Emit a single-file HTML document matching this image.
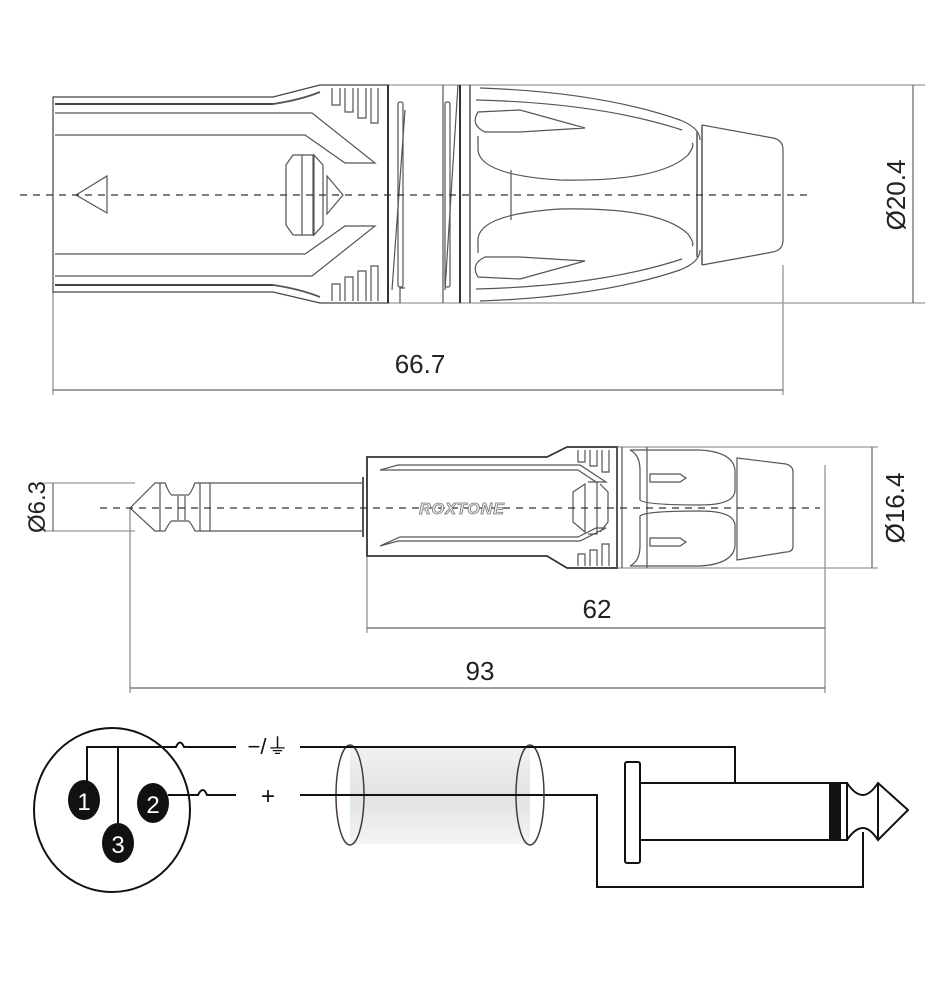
<!DOCTYPE html>
<html><head><meta charset="utf-8"><style>
html,body{margin:0;padding:0;background:#fff;width:939px;height:1000px;overflow:hidden}
svg{display:block}
text{font-family:"Liberation Sans",sans-serif}
</style></head><body>
<svg width="939" height="1000" viewBox="0 0 939 1000" xmlns="http://www.w3.org/2000/svg">
<g fill="none" stroke="#555" stroke-width="1.2">
<!-- TOP CONNECTOR -->
<line x1="53" y1="292" x2="53" y2="395" stroke="#888"/>
<line x1="783" y1="265" x2="783" y2="395" stroke="#888"/>
<line x1="388" y1="85" x2="925" y2="85" stroke="#999"/>
<line x1="388" y1="303" x2="925" y2="303" stroke="#999"/>
<line x1="913" y1="85" x2="913" y2="303" stroke="#666"/>
<line x1="53" y1="390" x2="783" y2="390" stroke="#666"/>
<path d="M53 97 H273 L320 85 H388 V303 H320 L273 292 H53 Z" stroke="#444"/>
<line x1="55" y1="104" x2="273" y2="104" stroke-width="2" stroke="#444"/>
<line x1="55" y1="285" x2="273" y2="285" stroke-width="2" stroke="#444"/>
<path d="M273 104 Q300 100 320 92" stroke-width="1.8"/>
<path d="M273 285 Q300 289 320 297" stroke-width="1.8"/>
<path d="M55 113 H312 L375 163 H345 L305 135 H55"/>
<path d="M55 276 H312 L375 226 H345 L305 254 H55"/>
<path d="M332 88 V105 H340 V88 M345 88 V112 H353 V88 M358 88 V118 H366 V88 M371 88 V123 H378 V88"/>
<path d="M332 301 V284 H340 V301 M345 301 V277 H353 V301 M358 301 V271 H366 V301 M371 301 V266 H378 V301"/>
<path d="M76 195 L107 176 V213 Z"/>
<path d="M293 155 H302 V235 H293 L286 225 V165 Z M299 155 H313 V235 H299 M314 155 L323 165 V225 L314 235 Z"/>
<path d="M327 176 L343 195 L327 214 Z"/>
<line x1="388" y1="85" x2="388" y2="303" stroke-width="2" stroke="#333"/>
<rect x="398" y="102" width="5" height="185" rx="2"/>
<line x1="392" y1="290" x2="405" y2="110"/>
<path d="M400 303 V288 H405"/>
<line x1="443" y1="85" x2="443" y2="303"/>
<rect x="445" y="102" width="5" height="185" rx="2"/>
<line x1="445" y1="290" x2="458" y2="85"/>
<line x1="460" y1="85" x2="460" y2="303" stroke-width="2" stroke="#333"/>
<line x1="470" y1="85" x2="470" y2="303" stroke-width="1.5"/>
<path d="M480 88 Q600 92 680 120 Q700 128 700 140 M476 100 Q600 103 682 130"/>
<path d="M480 301 Q600 297 680 270 Q700 262 700 250 M476 289 Q600 286 682 259"/>
<path d="M478 112 Q470 125 485 132 H520 L585 128 L520 110 Z"/>
<path d="M478 277 Q470 264 485 257 H520 L585 261 L520 279 Z"/>
<path d="M478 136 V150 Q480 175 560 180 Q660 182 688 155 Q695 145 692 143"/>
<path d="M478 253 V239 Q480 214 560 209 Q660 207 688 234 Q695 244 692 246"/>
<line x1="511" y1="170" x2="511" y2="220"/>
<path d="M697 132 V257 M702 125 V265" stroke-width="1.5"/>
<path d="M702 125 L773 138 Q783 140 783 150 V240 Q783 250 773 252 L702 265"/>
<line x1="20" y1="195" x2="812" y2="195" stroke="#333" stroke-dasharray="7,6" stroke-width="1.3"/>

<!-- MIDDLE PLUG -->
<line x1="44" y1="483" x2="135" y2="483" stroke="#999"/>
<line x1="44" y1="531" x2="135" y2="531" stroke="#999"/>
<line x1="53" y1="483" x2="53" y2="531" stroke="#666"/>
<line x1="130" y1="508" x2="130" y2="693" stroke="#888"/>
<line x1="367" y1="556" x2="367" y2="633" stroke="#888"/>
<line x1="825" y1="465" x2="825" y2="693" stroke="#888"/>
<line x1="617" y1="447" x2="878" y2="447" stroke="#999"/>
<line x1="617" y1="568" x2="878" y2="568" stroke="#999"/>
<line x1="872" y1="447" x2="872" y2="568" stroke="#666"/>
<line x1="367" y1="628" x2="825" y2="628" stroke="#666"/>
<line x1="130" y1="688" x2="825" y2="688" stroke="#666"/>
<path d="M130 508 L155 483 H165 Q170 495 172 495 H188 Q190 495 195 483 H210 V531 H195 Q190 521 188 521 H172 Q170 521 165 531 H155 Z"/>
<line x1="160" y1="483" x2="160" y2="531"/>
<line x1="178" y1="496" x2="178" y2="520"/>
<line x1="185" y1="496" x2="185" y2="520"/>
<line x1="200" y1="483" x2="200" y2="531"/>
<path d="M210 483 H363 V531 H210"/>
<path d="M363 477 V537" stroke-width="2"/>
<path d="M367 457 H547 L567 447 H617 V568 H567 L547 556 H367 Z" stroke="#333" stroke-width="1.8"/>
<path d="M380 470 L398 465 H580 L606 482 H596 L578 470 H400 L380 470 Z"/>
<path d="M380 546 L398 541 H580 L606 528 H596 L578 537 H400 Z"/>
<path d="M573 492 L585 484 V532 L573 522 Z M588 482 H597 V534 H588 M600 484 L608 492 V522 L600 532"/>
<path d="M578 450 V462 H585 V450 M590 450 V466 H597 V450 M602 450 V472 H609 V450"/>
<path d="M578 566 V554 H585 V566 M590 566 V550 H597 V566 M602 566 V544 H609 V566"/>
<line x1="617" y1="447" x2="617" y2="568" stroke-width="1.5"/>
<line x1="622" y1="447" x2="622" y2="568"/>
<path d="M630 450 Q640 455 640 470 V500 Q645 505 700 505 Q735 505 735 490 V470"/>
<path d="M630 566 Q640 561 640 546 V516 Q645 511 700 511 Q735 511 735 526 V546"/>
<path d="M630 450 H700 Q733 452 735 470 M630 566 H700 Q733 564 735 546"/>
<path d="M650 474 H680 L686 478 L680 482 H650 Z M650 546 H680 L686 542 L680 538 H650 Z"/>
<line x1="647" y1="447" x2="647" y2="568"/>
<path d="M737 458 L786 464 Q793 466 793 472 V546 Q793 552 786 552 L737 560 Z"/>
<line x1="100" y1="508" x2="820" y2="508" stroke="#333" stroke-dasharray="7,6" stroke-width="1.3"/>
</g>
<text x="462" y="514" font-size="16" font-style="italic" font-weight="bold" text-anchor="middle" style="fill:#eee;stroke:#777;stroke-width:0.8;letter-spacing:1px">ROXTONE</text>

<text x="420" y="373" font-size="26" text-anchor="middle" style="fill:#222">66.7</text>
<text x="597" y="618" font-size="26" text-anchor="middle" style="fill:#222">62</text>
<text x="480" y="680" font-size="26" text-anchor="middle" style="fill:#222">93</text>
<text transform="translate(905,195) rotate(-90)" font-size="26" text-anchor="middle" style="fill:#222">Ø20.4</text>
<text transform="translate(904,508) rotate(-90)" font-size="26" text-anchor="middle" style="fill:#222">Ø16.4</text>
<text transform="translate(45,507) rotate(-90)" font-size="24" text-anchor="middle" style="fill:#222">Ø6.3</text>

<defs><linearGradient id="cg" x1="0" y1="0" x2="0" y2="1"><stop offset="0" stop-color="#f2f2f2"/><stop offset="0.5" stop-color="#e2e2e2"/><stop offset="1" stop-color="#f4f4f4"/></linearGradient></defs>
<rect x="350" y="747" width="180" height="97" fill="url(#cg)"/>
<g fill="none" stroke="#111" stroke-width="2">
<ellipse cx="112" cy="810" rx="78" ry="82"/>
<path d="M87 790 V747 H176 Q180 738 184 747 H236"/>
<line x1="118" y1="747" x2="118" y2="830"/>
<path d="M168 795 H198 Q203 785 207 795 H236"/>
<path d="M300 747 H735 V783"/>
<path d="M300 795 H597 V887 H863 V832"/>
<rect x="625" y="762" width="15" height="101" rx="2"/>
<path d="M640 783 H830 V840 H640"/>
<rect x="830" y="783" width="10" height="57" fill="#111"/>
<path d="M840 783 H847 V840 H840"/>
<path d="M847 783 Q855 795 863 795 Q870 795 878 783 L908 810 L878 840 Q870 828 863 828 Q855 828 847 840"/>
<line x1="878" y1="783" x2="878" y2="840"/>
</g>
<g fill="none" stroke="#4a3a32" stroke-width="1.5">
<ellipse cx="350" cy="795" rx="14" ry="50"/>
<ellipse cx="530" cy="795" rx="14" ry="50"/>
</g>
<line x1="300" y1="747" x2="536" y2="747" stroke="#111" stroke-width="2"/>
<line x1="300" y1="795" x2="536" y2="795" stroke="#111" stroke-width="2"/>
<ellipse cx="84" cy="800" rx="16" ry="20" fill="#111"/>
<ellipse cx="118" cy="843" rx="16" ry="20" fill="#111"/>
<ellipse cx="153" cy="803" rx="16" ry="20" fill="#111"/>
<text x="84" y="810" font-size="24" text-anchor="middle" style="fill:#fff">1</text>
<text x="118" y="853" font-size="24" text-anchor="middle" style="fill:#fff">3</text>
<text x="153" y="813" font-size="24" text-anchor="middle" style="fill:#fff">2</text>
<text x="268" y="754" font-size="22" text-anchor="middle" style="fill:#111">−/⏚</text>
<text x="268" y="804" font-size="24" text-anchor="middle" style="fill:#111">+</text>
</svg>
</body></html>
